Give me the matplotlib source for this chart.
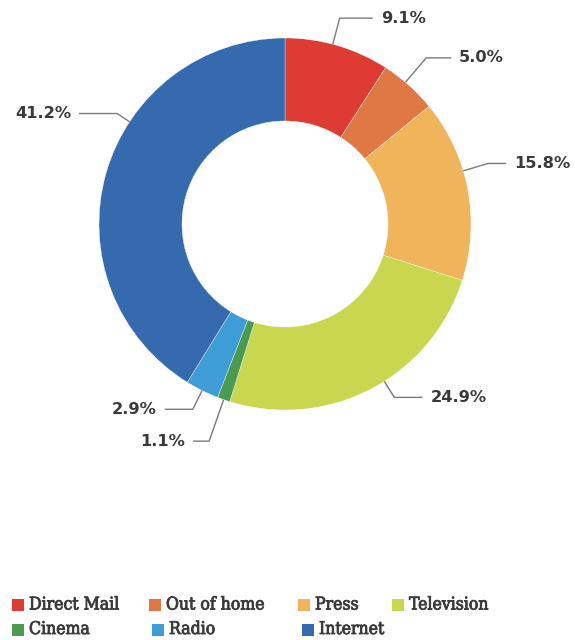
import numpy as np
import matplotlib
matplotlib.use("Agg")
import matplotlib.pyplot as plt
import matplotlib.patheffects as pe
from matplotlib.patches import Rectangle

# data
channels = ["Direct Mail", "Out of home", "Press", "Television", "Cinema", "Radio", "Internet"]
shares = [9.1, 5.0, 15.8, 24.9, 1.1, 2.9, 41.2]
colors = ["#dd3b33", "#e07844", "#f0b45a", "#c8d74e", "#4b9a50", "#3e9cd6", "#356aae"]

# label layout (angle nudge in deg, elbow radius px, horizontal run px)
label_shift = [1.5, 1.4, 5.8, 4.7, 0.0, 0.0, -17.5]
elbow_r = [213, 218, 212, 205, 230, 207, 201]
run_len = [33, 25, 18, 28, 16, 28, 38]

# legend layout (square x, row)
leg_x = [12, 149, 298, 392, 12, 152, 302]
leg_row = [0, 0, 0, 0, 1, 1, 1]

W, H = 575, 640
fig = plt.figure(figsize=(W / 100, H / 100), dpi=100)
ax = fig.add_axes([0, 0, 1, 1])

cx, cy, R = 285, H - 224, 186
wedges, _ = ax.pie(shares, colors=colors, startangle=90, counterclock=False,
                   center=(cx, cy), radius=R,
                   wedgeprops=dict(width=R * 0.446, edgecolor="white", linewidth=0.25))

ax.set_xlim(0, W)
ax.set_ylim(0, H)
ax.set_aspect("equal")
ax.axis("off")

for w, val, sh, er, rl in zip(wedges, shares, label_shift, elbow_r, run_len):
    ang = np.deg2rad((w.theta1 + w.theta2) / 2 + sh)
    x0, y0 = cx + R * np.cos(ang), cy + R * np.sin(ang)
    x1, y1 = cx + er * np.cos(ang), cy + er * np.sin(ang)
    side = 1 if np.cos(ang) >= 0 else -1
    x2 = x1 + side * rl
    ax.plot([x0, x1, x2], [y0, y1, y1], color="#7a7a7a", lw=1, solid_capstyle="butt")
    ax.text(x2 + side * 8, y1, f"{val:.1f}%", ha="left" if side > 0 else "right",
            va="center", fontsize=11.7, fontweight="bold", color="#3a3a3a",
            family="DejaVu Sans")

for name, c, lx, row in zip(channels, colors, leg_x, leg_row):
    yc = H - (605 + row * 24.5)
    ax.add_patch(Rectangle((lx, yc - 6), 12, 12, color=c, lw=0))
    ax.text(lx + 17, yc, name, ha="left", va="center", fontsize=12.6,
            color="#3a3a3a", family="DejaVu Serif", fontstretch="condensed",
            path_effects=[pe.withStroke(linewidth=0.6, foreground="#3a3a3a")])

fig.savefig("out.png", dpi=100)
